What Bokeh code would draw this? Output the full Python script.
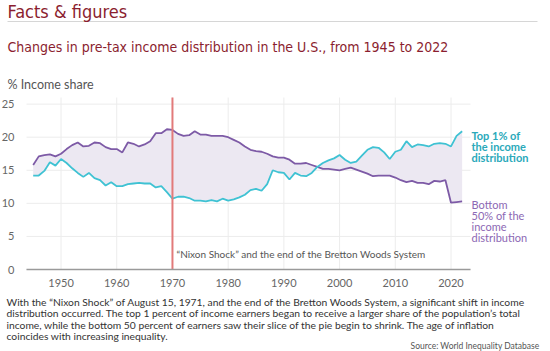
from bokeh.plotting import figure
from bokeh.models import Label, FixedTicker, Range1d
from bokeh.embed import file_html
from bokeh.resources import INLINE

years = list(range(1945, 2023))
bottom50 = [15.8, 17.1, 17.3, 17.4, 17.1, 17.5, 18.2, 18.8, 19.2, 18.6,
            18.7, 19.2, 19.1, 18.5, 18.2, 18.2, 17.7, 19.2, 19.0, 18.6,
            18.9, 19.4, 20.6, 20.6, 21.2, 21.1, 20.5, 20.2, 20.3, 20.9,
            20.4, 20.4, 20.2, 20.2, 20.2, 20.0, 19.6, 19.2, 18.6, 18.1,
            17.9, 17.8, 17.5, 17.1, 16.9, 16.9, 16.6, 16.0, 16.0, 16.1,
            15.8, 15.5, 15.2, 15.2, 15.1, 15.0, 15.2, 15.4, 15.1, 14.8,
            14.5, 14.1, 14.2, 14.2, 14.2, 13.9, 13.5, 13.2, 13.4, 13.1,
            13.1, 12.9, 13.4, 13.3, 13.5, 10.1, 10.2, 10.3]
top1 = [14.2, 14.2, 14.9, 16.2, 15.7, 16.7, 16.1, 15.3, 14.6, 14.0,
        14.6, 13.8, 13.5, 12.7, 13.2, 12.6, 12.6, 12.9, 13.0, 13.1,
        13.0, 13.0, 12.4, 12.6, 11.7, 10.7, 11.0, 11.0, 10.8, 10.4,
        10.4, 10.3, 10.5, 10.3, 10.7, 10.4, 10.6, 10.9, 11.3, 12.0,
        12.2, 11.9, 12.9, 15.0, 14.7, 14.6, 13.6, 14.6, 14.2, 14.1,
        14.6, 15.5, 16.1, 16.5, 16.8, 17.3, 16.6, 16.1, 16.3, 17.2,
        18.1, 18.5, 18.4, 17.7, 16.7, 17.8, 18.1, 19.4, 18.5, 18.9,
        18.8, 18.6, 19.0, 19.1, 19.0, 18.6, 20.2, 20.9]
x_ticks = [1950, 1960, 1970, 1980, 1990, 2000, 2010, 2020]
y_ticks = [0, 5, 10, 15, 20, 25]
nixon_year = 1970

title_txt = "Facts & figures"
subtitle_txt = "Changes in pre-tax income distribution in the U.S., from 1945 to 2022"
ylab_txt = "% Income share"
nixon_txt = "\u201cNixon Shock\u201d and the end of the Bretton Woods System"
top_lines = ["Top 1% of", "the income", "distribution"]
bot_lines = ["Bottom", "50% of the", "income", "distribution"]
caption_lines = [
    "With the \u201cNixon Shock\u201d of August 15, 1971, and the end of the Bretton Woods System, a significant shift in income",
    "distribution occurred. The top 1 percent of income earners began to receive a larger share of the population\u2019s total",
    "income, while the bottom 50 percent of earners saw their slice of the pie begin to shrink. The age of inflation",
    "coincides with increasing inequality.",
]
source_txt = "Source: World Inequality Database"

RED = "#8b1e2f"
PURPLE = "#7d5aa6"
CYAN = "#3fc2d3"
GRAY = "#555555"
COND = "'DejaVu Sans Condensed', sans-serif"
BODY = "Lato"

W, H = 550, 351
# plot area on the canvas
X_MIN, X_MAX = 1943.8, 2023.5
Y_MIN, Y_MAX = 0, 26
PL, PR, PT, PB = 26, 470, 97, 269
sx = (PR - PL) / (X_MAX - X_MIN)
sy = (PB - PT) / (Y_MAX - Y_MIN)

p = figure(width=W, height=H, output_backend="svg", toolbar_location=None,
           x_range=Range1d(X_MIN - PL / sx, X_MAX + (W - PR) / sx),
           y_range=Range1d(Y_MIN - (H - PB) / sy, Y_MAX + PT / sy),
           min_border=0)
p.title.visible = False
p.outline_line_color = None
p.background_fill_color = "white"
p.border_fill_color = "white"
p.xgrid.visible = False
p.ygrid.visible = False

# grid lines limited to the plot area
p.segment(x0=x_ticks, x1=x_ticks, y0=[Y_MIN] * len(x_ticks), y1=[Y_MAX] * len(x_ticks),
          line_color="#ececec", line_width=1)
p.segment(x0=[X_MIN] * len(y_ticks), x1=[X_MAX] * len(y_ticks), y0=y_ticks, y1=y_ticks,
          line_color="#ececec", line_width=1)

p.varea(x=years, y1=bottom50, y2=top1, fill_color="#ece8f2", fill_alpha=1.0)
p.line(years, bottom50, line_color=PURPLE, line_width=1.8)
p.line(years, top1, line_color=CYAN, line_width=1.8)
p.segment(x0=[nixon_year], x1=[nixon_year], y0=[Y_MIN], y1=[Y_MAX],
          line_color="#e27a7a", line_width=2)

p.xaxis.fixed_location = Y_MIN
p.yaxis.fixed_location = X_MIN
p.xaxis.bounds = (X_MIN, X_MAX)
p.yaxis.bounds = (Y_MIN, Y_MAX)
p.xaxis.ticker = FixedTicker(ticks=x_ticks)
p.yaxis.ticker = FixedTicker(ticks=y_ticks)
for ax in (p.xaxis, p.yaxis):
    ax.major_tick_line_color = None
    ax.minor_tick_line_color = None
    ax.major_label_text_font = BODY
    ax.major_label_text_font_size = "11px"
    ax.major_label_text_color = "#666666"
p.xaxis.axis_line_color = "#9a9a9a"
p.xaxis.axis_line_width = 1.5
p.xaxis.major_label_standoff = 3
p.yaxis.axis_line_color = None
p.yaxis.major_label_standoff = 6


def lab(text, cx, cy, size, color, font=BODY, style="normal", align="left"):
    p.add_layout(Label(x=cx, y=H - cy, x_units="screen", y_units="screen",
                       text=text, text_font=font, text_font_size=size,
                       text_color=color, text_font_style=style,
                       text_align=align, text_baseline="middle"))


lab(title_txt, 7, 11, "18px", RED, font=COND)
# thin rule under the header
p.segment(x0=[X_MIN - (PL - 7) / sx], x1=[X_MIN + (537 - PL) / sx],
          y0=[Y_MAX + (PT - 21) / sy], y1=[Y_MAX + (PT - 21) / sy],
          line_color="#d6d6d6", line_width=1)
lab(subtitle_txt, 7, 46, "14px", RED, font=COND)
lab(ylab_txt, 7, 84, "12.5px", GRAY)
lab(nixon_txt, 176, 253, "10px", GRAY)
for i, t in enumerate(top_lines):
    lab(t, 471, 134.5 + i * 11, "11px", "#2aa9ba", style="bold")
for i, t in enumerate(bot_lines):
    lab(t, 471, 204 + i * 11, "11px", "#8c68b4")
for i, t in enumerate(caption_lines):
    lab(t, 6, 301.5 + i * 11.3, "10.3px", "#333333")
lab(source_txt, 539, 345, "8.5px", GRAY, align="right")

open("out.html", "w").write(file_html(p, INLINE))
